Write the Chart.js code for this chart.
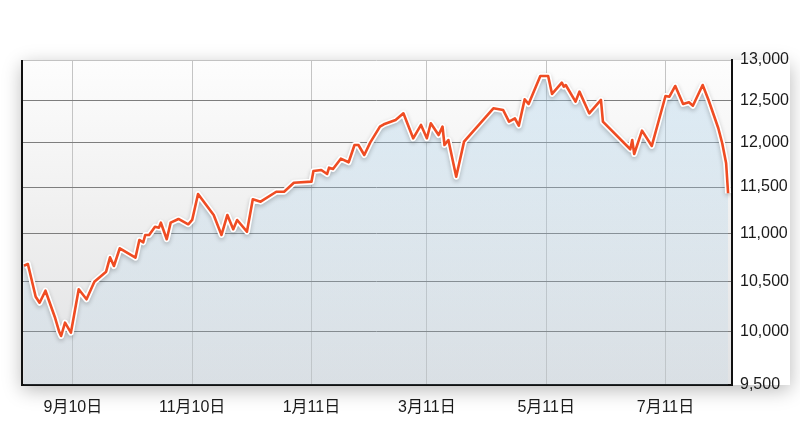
<!DOCTYPE html>
<html>
<head>
<meta charset="utf-8">
<script src="https://cdn.jsdelivr.net/npm/chart.js@4"></script>
<style>
  html, body { margin: 0; padding: 0; background: #fff; }
  #wrap { width: 800px; height: 426px; }
</style>
</head>
<body>
<div id="wrap"><canvas id="chart"></canvas></div>
<script>
// x = days since 2010-08-06
const days = [1,3,7,9,12,17,19,20,22,25,29,33,37,43,45,47,50,58,60,62,
  63,65,68,70,71,74,76,80,85,87,90,98,102,105,108,110,115,118,122,130,
  134,139,148,149,153,156,157,159,163,167,170,172,175,178,183,185,191,195,200,204,
  207,209,213,215,216,218,222,226,241,246,249,252,254,257,259,265,269,271,276,277,
  278,283,285,290,296,297,311,312,313,317,322,329,331,334,338,341,343,348,351,356,
  358,360,361];
const values = [10659,10677,10345,10285,10405,10132,10002,9960,10089,9992,
  10419,10319,10496,10598,10746,10656,10840,10742,10927,10903,
  10980,10980,11068,11058,11111,10935,11111,11151,11094,11140,
  11423,11194,10980,11194,11041,11140,11015,11365,11339,11448,
  11448,11548,11560,11679,11691,11646,11717,11702,11819,11778,
  11976,11976,11861,12003,12190,12218,12269,12348,12054,12210,
  12054,12230,12092,12190,11976,12034,11615,12015,12408,12388,
  12249,12289,12202,12516,12460,12801,12801,12581,12719,12670,
  12690,12487,12609,12348,12508,12249,11927,12034,11873,12143,
  11965,12556,12548,12678,12460,12480,12439,12690,12508,12171,
  11996,11767,11431];

const xTickDays = [26, 87, 148, 207, 268, 329];
const xTickLabels = ['9月10日', '11月10日', '1月11日', '3月11日', '5月11日', '7月11日'];
const yTicks = [9500, 10000, 10500, 11000, 11500, 12000, 12500, 13000];

const points = days.map((d, i) => ({ x: d, y: values[i] }));

// plot panel background, shadow and frame
const framePlugin = {
  id: 'frame',
  beforeDraw(chart){
    const { ctx, chartArea: a } = chart;
    ctx.save();
    ctx.shadowColor = 'rgba(0,0,0,0.28)';
    ctx.shadowBlur = 18;
    ctx.shadowOffsetY = 5;
    ctx.fillStyle = '#fff';
    ctx.fillRect(a.left, a.top, a.right - a.left + 58, a.bottom - a.top);
    ctx.restore();
    const g = ctx.createLinearGradient(0, a.top, 0, a.bottom);
    g.addColorStop(0, '#fdfdfd');
    g.addColorStop(0.5, '#efefef');
    g.addColorStop(1, '#e1e2e4');
    ctx.fillStyle = g;
    ctx.fillRect(a.left, a.top, a.right - a.left, a.bottom - a.top);
  },
  afterDraw(chart){
    const { ctx, chartArea: a } = chart;
    ctx.save();
    ctx.strokeStyle = '#111';
    ctx.lineWidth = 2;
    ctx.beginPath();
    ctx.moveTo(a.left, a.top);
    ctx.lineTo(a.left, a.bottom);
    ctx.stroke();
    ctx.restore();
  }
};

// soft drop shadow under the white outline of the line
const haloShadow = {
  id: 'haloShadow',
  beforeDatasetDraw(chart, args){
    if(args.index !== 1) return;
    const ctx = chart.ctx;
    ctx.save();
    ctx.shadowColor = 'rgba(0,0,0,0.22)';
    ctx.shadowBlur = 4;
    ctx.shadowOffsetY = 2;
  },
  afterDatasetDraw(chart, args){
    if(args.index !== 1) return;
    chart.ctx.restore();
  }
};

new Chart(document.getElementById('chart'), {
  type: 'line',
  data: {
    datasets: [
      {
        data: points,
        borderWidth: 0,
        pointRadius: 0,
        tension: 0,
        fill: 'start',
        order: 3,
        backgroundColor(c){
          const a = c.chart.chartArea;
          if(!a) return 'rgba(170,205,230,0.3)';
          const g = c.chart.ctx.createLinearGradient(0, a.top, 0, a.bottom);
          g.addColorStop(0, 'rgba(165,205,232,0.38)');
          g.addColorStop(1, 'rgba(165,205,232,0.12)');
          return g;
        }
      },
      {
        data: points,
        borderColor: '#ffffff',
        borderWidth: 6,
        pointRadius: 0,
        tension: 0,
        fill: false,
        order: 2,
        borderJoinStyle: 'round'
      },
      {
        data: points,
        borderColor: '#ef4c23',
        borderWidth: 2.6,
        pointRadius: 0,
        tension: 0,
        fill: false,
        order: 1,
        borderJoinStyle: 'round'
      }
    ]
  },
  options: {
    responsive: true,
    maintainAspectRatio: false,
    animation: false,
    events: [],
    layout: { padding: { top: 60, left: 22, right: 0, bottom: 0 } },
    plugins: { legend: { display: false }, tooltip: { enabled: false } },
    scales: {
      x: {
        type: 'linear',
        min: 0,
        max: 363,
        afterBuildTicks(scale){ scale.ticks = xTickDays.map(v => ({ value: v })); },
        afterFit(scale){ scale.height = 41; },
        grid: { color: '#c4c4c4', lineWidth: 1, drawTicks: false },
        border: { color: '#111', width: 2 },
        ticks: {
          autoSkip: false,
          maxRotation: 0,
          padding: 13,
          color: '#1a1a1a',
          font: { family: '"Liberation Sans", "Noto Sans CJK JP", sans-serif', size: 16 },
          callback: (v) => xTickLabels[xTickDays.indexOf(v)]
        }
      },
      y: {
        type: 'logarithmic',
        position: 'right',
        min: 9500,
        max: 13000,
        afterBuildTicks(scale){ scale.ticks = yTicks.map(v => ({ value: v })); },
        afterFit(scale){ scale.width = 68; },
        grid: {
          drawTicks: false,
          lineWidth: 1,
          color: (c) => (c.tick && c.tick.value === 13000) ? '#c2c2c2' : '#7e7e7e'
        },
        border: { color: '#111', width: 2 },
        ticks: {
          autoSkip: false,
          padding: 8,
          color: '#1a1a1a',
          font: { family: '"Liberation Sans", Arial, sans-serif', size: 16 },
          callback: (v) => Number(v).toLocaleString('en-US')
        }
      }
    }
  },
  plugins: [framePlugin, haloShadow]
});
</script>
</body>
</html>
